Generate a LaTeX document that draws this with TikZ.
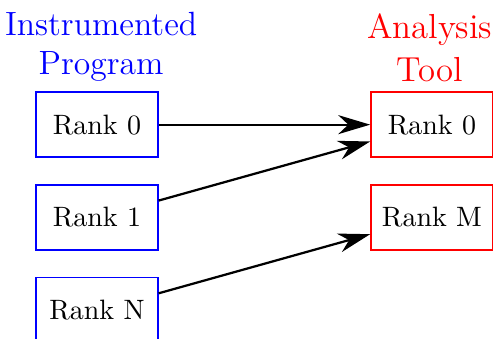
\documentclass[tikz,border=0pt]{standalone}
\usetikzlibrary{positioning,arrows.meta}

\begin{document}
\begin{tikzpicture}[
rankbox/.style={draw,semithick,minimum width=43.5pt,minimum height=23.2pt},
title/.style={font=\large,align=center},
fleche/.style={thick,-{Stealth[length=11.4pt,width=6.8pt,inset=3.6pt]}},
node distance=9.3pt and 75.5pt
]

\useasboundingbox
(-34.6pt,44.5pt)
rectangle
(141.4pt,-76.2pt);

% Programme
\node[rankbox,blue]
(prog0)
at (0,0)
{\textcolor{black}{Rank 0}};

\node[rankbox,blue,below=of prog0]
(prog1)
{\textcolor{black}{Rank 1}};

\node[rankbox,blue,below=of prog1]
(progN)
{\textcolor{black}{Rank N}};

\node[title,blue,above=0pt of prog0,xshift=1.5pt]
(progtitle)
{Instrumented\\Program};

% Outil
\node[rankbox,red,right=of prog0]
(tool0)
{\textcolor{black}{Rank 0}};

\node[rankbox,red,right=of prog1]
(toolM)
{\textcolor{black}{Rank M}};

\node[title,red,above=0pt of tool0,xshift=-0.8pt,font=\fontsize{12.4}{15.2}\selectfont]
(tooltitle)
{Analysis\\Tool};

\draw[fleche]
(prog0.east)
--
(tool0.west);

\draw[fleche]
([yshift=6pt]prog1.east)
--
([yshift=-6pt]tool0.west);

\draw[fleche]
([yshift=6pt]progN.east)
--
([yshift=-6pt]toolM.west);

\end{tikzpicture}
\end{document}
